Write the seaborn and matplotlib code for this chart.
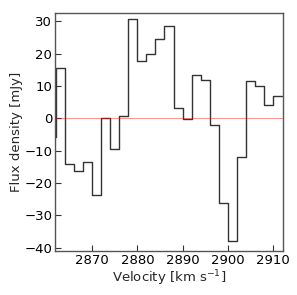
import matplotlib
matplotlib.use("Agg")
import matplotlib.pyplot as plt
import numpy as np
import pandas as pd
import seaborn as sns

sns.set_style("white")
plt.rcParams["font.family"] = ["DejaVu Sans"]

# channel left edges (km/s) and flux densities (mJy)
vel_edges = [2860, 2862, 2864, 2866, 2868, 2870, 2872, 2874, 2876, 2878,
             2880, 2882, 2884, 2886, 2888, 2890, 2892, 2894, 2896, 2898,
             2900, 2902, 2904, 2906, 2908, 2910, 2912]
flux = [-5.6, 15.5, -14.2, -16.4, -13.6, -23.8, 0.2, -9.4, 0.9, 30.7,
        17.9, 20.0, 24.5, 28.7, 3.3, -0.1, 13.5, 12.0, -1.9, -26.0,
        -37.9, -11.8, 11.5, 9.9, 4.2, 7.0, 7.0]

df = pd.DataFrame({"velocity": vel_edges, "flux": flux})

fig = plt.figure(figsize=(2.97, 2.95), dpi=100)
ax = fig.add_axes([0.185, 0.149, 0.768, 0.807])

sns.lineplot(data=df, x="velocity", y="flux", estimator=None, sort=False,
             drawstyle="steps-post", color="#333333", linewidth=1.0, ax=ax)
ax.axhline(0, color="red", linewidth=0.6, alpha=0.5)

ax.set_xlim(2861.8, 2912.2)
ax.set_ylim(-41, 32.6)
ax.set_xticks([2870, 2880, 2890, 2900, 2910])
ax.set_yticks([-40, -30, -20, -10, 0, 10, 20, 30])
ax.tick_params(direction="in", length=4, width=0.8, labelsize=9.5,
               bottom=True, left=True, top=False, right=False,
               colors="#333333", labelcolor="black", pad=2)
ax.set_xlabel("Velocity [km s$^{-1}$]", fontsize=9.5, labelpad=1)
ax.set_ylabel("Flux density [mJy]", fontsize=9.5, labelpad=1)
for s in ax.spines.values():
    s.set_color("#555555")
    s.set_linewidth(1.0)

fig.savefig("out.png", dpi=100)
